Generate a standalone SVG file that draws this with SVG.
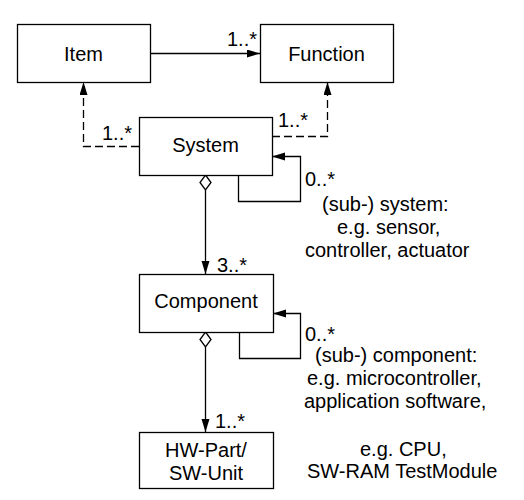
<svg xmlns="http://www.w3.org/2000/svg" width="524" height="500" viewBox="0 0 524 500">
<defs>
<style>
.box{fill:#fff;stroke:#000;stroke-width:1.3}
.t{font-family:"Liberation Sans",Arial,sans-serif;font-size:20px;fill:#000}
.c{text-anchor:middle}
.ln{fill:none;stroke:#000;stroke-width:1.3}
.d{stroke-dasharray:8,4}
</style>
<marker id="arr" markerUnits="userSpaceOnUse" markerWidth="13" markerHeight="9" refX="13" refY="4" orient="auto">
<path d="M0,0 L13,4 L0,8 z" fill="#000"/>
</marker>
</defs>
<rect width="524" height="500" fill="#fff"/>
<g id="connectors">
<line class="ln" x1="150" y1="53.5" x2="260" y2="53.5" marker-end="url(#arr)"/>
<polyline class="ln d" points="139,146.5 83.5,146.5 83.5,82" marker-end="url(#arr)"/>
<polyline class="ln d" points="272,136.5 327.5,136.5 327.5,82" marker-end="url(#arr)"/>
<polyline class="ln" points="238.5,175 238.5,201.5 300.5,201.5 300.5,156.5 272,156.5" marker-end="url(#arr)"/>
<path class="ln" d="M205.5,175 L211,182.5 L205.5,190 L200,182.5 Z"/>
<line class="ln" x1="205.5" y1="190" x2="205.5" y2="274" marker-end="url(#arr)"/>
<polyline class="ln" points="239.5,332 239.5,358.5 300.5,358.5 300.5,313.5 273,313.5" marker-end="url(#arr)"/>
<path class="ln" d="M205.5,332 L211,339.5 L205.5,347 L200,339.5 Z"/>
<line class="ln" x1="205.5" y1="347" x2="205.5" y2="432" marker-end="url(#arr)"/>
<text class="t" x="227" y="46">1..*</text>
<text class="t" x="102" y="140">1..*</text>
<text class="t" x="278" y="127">1..*</text>
<text class="t" x="305" y="186">0..*</text>
<text class="t" x="217" y="272">3..*</text>
<text class="t" x="305" y="341">0..*</text>
<text class="t" x="215" y="428">1..*</text>
</g>
<g id="item"><rect class="box" x="17.5" y="24.5" width="133" height="58"/><text class="t c" x="83.5" y="61">Item</text></g>
<g id="function"><rect class="box" x="260.5" y="24.5" width="133" height="58"/><text class="t c" x="326.5" y="61">Function</text></g>
<g id="system"><rect class="box" x="139.5" y="117.5" width="133" height="58"/><text class="t c" x="205.5" y="152">System</text></g>
<g id="component"><rect class="box" x="139.5" y="274.5" width="134" height="58"/><text class="t c" x="206" y="308">Component</text></g>
<g id="hwsw"><rect class="box" x="139.5" y="432.5" width="134" height="56"/><text class="t c" x="206" y="457">HW-Part/</text><text class="t c" x="206" y="480">SW-Unit</text></g>
<g id="notes">
<text class="t" x="322" y="211">(sub-) system:</text>
<text class="t" x="337" y="234">e.g. sensor,</text>
<text class="t" x="305" y="257">controller, actuator</text>
<text class="t" x="315" y="362">(sub-) component:</text>
<text class="t" x="307" y="385">e.g. microcontroller,</text>
<text class="t" x="304" y="408">application software,</text>
<text class="t" x="360" y="456">e.g. CPU,</text>
<text class="t" x="307" y="478">SW-RAM TestModule</text>
</g>
</svg>
